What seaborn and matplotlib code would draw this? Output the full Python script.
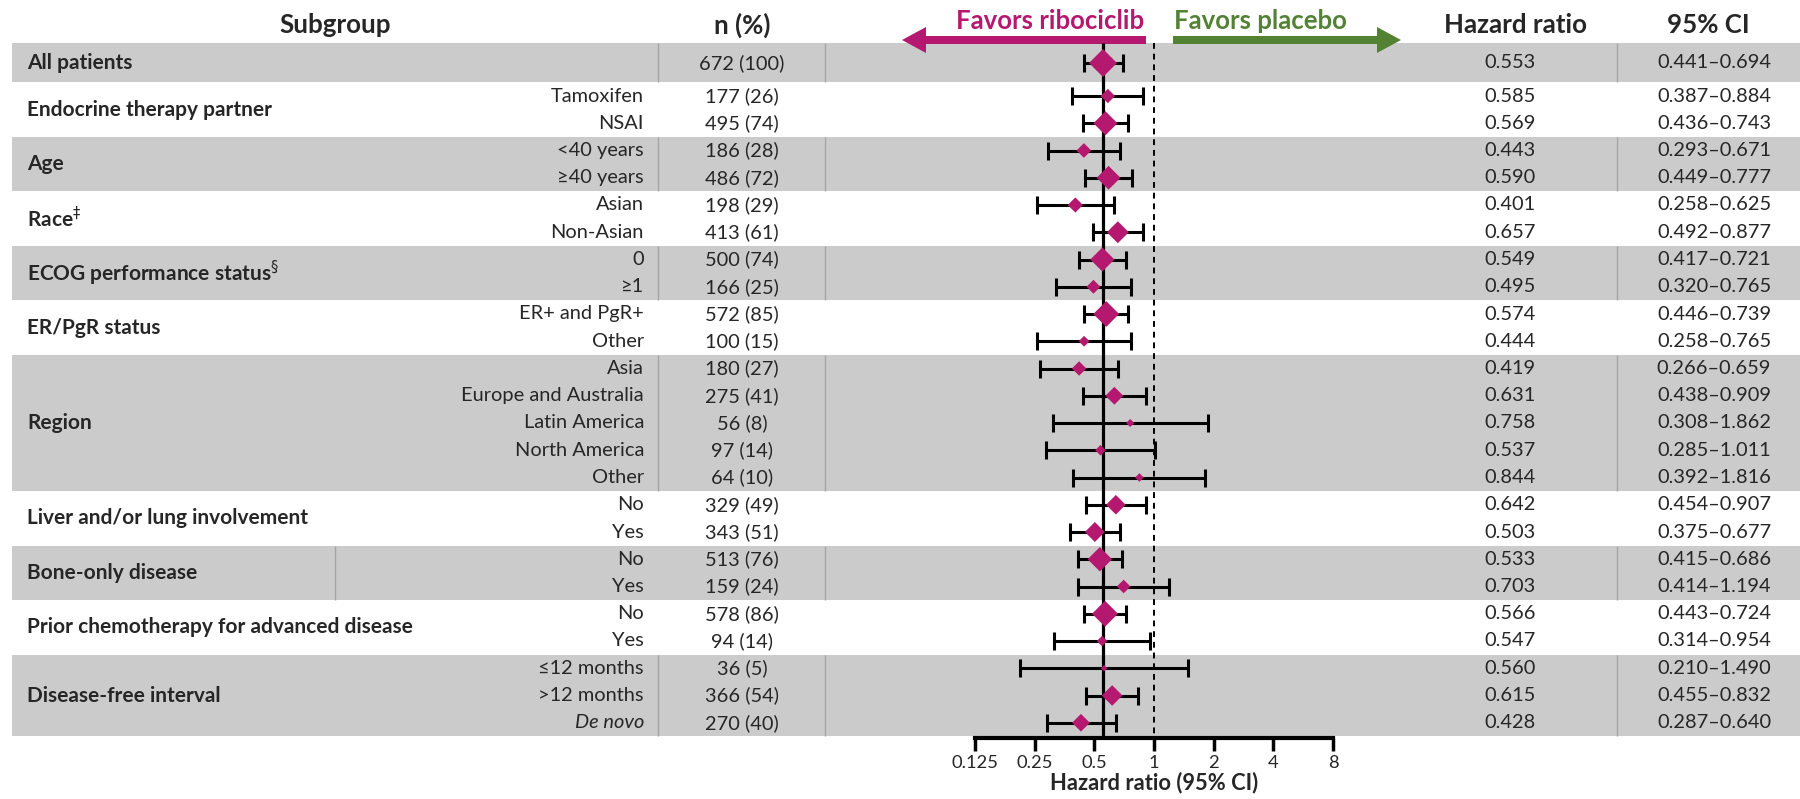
import numpy as np
import pandas as pd
import seaborn as sns
import matplotlib.pyplot as plt
from matplotlib.patches import FancyArrow

sns.set_style("white")
plt.rcParams["font.family"] = ["Lato", "DejaVu Sans"]
plt.rcParams["mathtext.fontset"] = "dejavusans"

# ---- data ----
groups = ["All patients", "Endocrine therapy partner", "Age", r"Race$^{\ddag}$",
          r"ECOG performance status$^{\S}$", "ER/PgR status", "Region",
          "Liver and/or lung involvement", "Bone-only disease",
          "Prior chemotherapy for advanced disease", "Disease-free interval"]
group_sizes = [1, 2, 2, 2, 2, 2, 5, 2, 2, 2, 3]
subgroups = ["", "Tamoxifen", "NSAI", "<40 years", "≥40 years", "Asian", "Non-Asian",
             "0", "≥1", "ER+ and PgR+", "Other", "Asia", "Europe and Australia",
             "Latin America", "North America", "Other", "No", "Yes", "No", "Yes",
             "No", "Yes", "≤12 months", ">12 months", "De novo"]
n_pts = [672, 177, 495, 186, 486, 198, 413, 500, 166, 572, 100, 180, 275, 56, 97, 64,
         329, 343, 513, 159, 578, 94, 36, 366, 270]
pct = [100, 26, 74, 28, 72, 29, 61, 74, 25, 85, 15, 27, 41, 8, 14, 10,
       49, 51, 76, 24, 86, 14, 5, 54, 40]
hr = [0.553, 0.585, 0.569, 0.443, 0.590, 0.401, 0.657, 0.549, 0.495, 0.574, 0.444,
      0.419, 0.631, 0.758, 0.537, 0.844, 0.642, 0.503, 0.533, 0.703, 0.566, 0.547,
      0.560, 0.615, 0.428]
ci_lo = [0.441, 0.387, 0.436, 0.293, 0.449, 0.258, 0.492, 0.417, 0.320, 0.446, 0.258,
         0.266, 0.438, 0.308, 0.285, 0.392, 0.454, 0.375, 0.415, 0.414, 0.443, 0.314,
         0.210, 0.455, 0.287]
ci_hi = [0.694, 0.884, 0.743, 0.671, 0.777, 0.625, 0.877, 0.721, 0.765, 0.739, 0.765,
         0.659, 0.909, 1.862, 1.011, 1.816, 0.907, 0.677, 0.686, 1.194, 0.724, 0.954,
         1.490, 0.832, 0.640]
ticks = [0.125, 0.25, 0.5, 1, 2, 4, 8]
tick_labels = ["0.125", "0.25", "0.5", "1", "2", "4", "8"]

MAGENTA = "#b5196f"
GREEN = "#548235"
GRAY = "#cbcbcb"
SEP = "#a6a6a6"

# layout in pixels (figure is 1800 x 799)
W, H = 1800, 799
ROW0, ROW1, PITCH = 63, 96, 27.25
row_y = np.array([ROW0] + [ROW1 + PITCH * i for i in range(len(hr) - 1)])

df = pd.DataFrame({"sub": subgroups, "n": n_pts, "pct": pct, "hr": hr,
                   "lo": ci_lo, "hi": ci_hi, "y": row_y})

fig = plt.figure(figsize=(W / 100, H / 100), dpi=100)
renderer = fig.canvas.get_renderer()


def fit_size(sample, width_px, **kw):
    # font size that makes `sample` as wide as it is in the reference
    t = fig.text(0, 0, sample, fontsize=10, **kw)
    w = t.get_window_extent(renderer=renderer).width
    t.remove()
    return 10 * width_px / w


FS_BODY = 0.5 * (fit_size("0.438\u20130.909", 113) + fit_size("672 (100)", 86))
FS_GROUP = fit_size("Endocrine therapy partner", 246, fontweight="bold")
FS_HEAD = fit_size("Subgroup", 111, fontweight="bold")
FS_FAVOR = fit_size("Favors placebo", 173, fontweight="bold")
FS_TICK = fit_size("0.125", 47)
FS_XLAB = fit_size("Hazard ratio (95% CI)", 207, fontweight="bold")

# background axes in pixel coordinates for the table part
bg = fig.add_axes([0, 0, 1, 1], zorder=0)
bg.set_xlim(0, W)
bg.set_ylim(H, 0)
bg.axis("off")

# group bands, separators and labels
start = 0
for gi, (g, size) in enumerate(zip(groups, group_sizes)):
    ys = row_y[start:start + size]
    if gi == 0:
        top, bottom = 43, 82
    else:
        top, bottom = ys[0] - PITCH / 2, ys[-1] + PITCH / 2
    if gi % 2 == 0:
        bg.axhspan(top, bottom, xmin=12 / W, xmax=1, color=GRAY, lw=0, zorder=0)
        seps = [335, 825, 1617] if g == "Bone-only disease" else [658, 825, 1617]
        bg.vlines(seps, top, bottom, colors=SEP, lw=1, zorder=1)
    bg.text(27, ys.mean(), g, ha="left", va="center", fontsize=FS_GROUP,
            fontweight="bold", zorder=2)
    start += size

for _, r in df.iterrows():
    style = "italic" if r["sub"] == "De novo" else "normal"
    bg.text(644, r["y"], r["sub"], ha="right", va="center", fontsize=FS_BODY,
            style=style)
    bg.text(742, r["y"], f"{r['n']} ({r['pct']})", ha="center", va="center",
            fontsize=FS_BODY)
    bg.text(1510, r["y"], f"{r['hr']:.3f}", ha="center", va="center", fontsize=FS_BODY)
    bg.text(1714, r["y"], f"{r['lo']:.3f}\u2013{r['hi']:.3f}", ha="center",
            va="center", fontsize=FS_BODY)

# headers
for x, t in [(335, "Subgroup"), (742, "n (%)"), (1516, "Hazard ratio"), (1708, "95% CI")]:
    bg.text(x, 25, t, ha="center", va="center", fontsize=FS_HEAD, fontweight="bold")

# favors arrows
bg.add_patch(FancyArrow(1146, 40, -244, 0, width=8, head_width=26, head_length=24,
                        length_includes_head=True, color=MAGENTA, lw=0, zorder=3))
bg.add_patch(FancyArrow(1173, 40, 228, 0, width=8, head_width=26, head_length=24,
                        length_includes_head=True, color=GREEN, lw=0, zorder=3))
bg.text(1144, 21, "Favors ribociclib", ha="right", va="center", fontsize=FS_FAVOR,
        fontweight="bold", color=MAGENTA)
bg.text(1174, 21, "Favors placebo", ha="left", va="center", fontsize=FS_FAVOR,
        fontweight="bold", color=GREEN)

# forest axes
ax = fig.add_axes([975 / W, 1 - 738 / H, 358 / W, 738 / H], zorder=1)
ax.set_facecolor("none")
ax.set_xscale("log", base=2)

ax.vlines(hr[0], 43, 738, color="black", lw=2.3, zorder=2)
ax.vlines(1, 43, 738, color="black", lw=1.4, linestyles=(0, (3, 2.5)), zorder=1)
ax.errorbar(df["hr"], df["y"], xerr=[df["hr"] - df["lo"], df["hi"] - df["hr"]],
            fmt="none", ecolor="black", elinewidth=2.2, capsize=6.8, capthick=2.2,
            zorder=3)
sns.scatterplot(data=df, x="hr", y="y", size="n", sizes=(0.302 * 36, 0.302 * 672),
                size_norm=(36, 672), marker="D", color=MAGENTA, edgecolor="none",
                linewidth=0, legend=False, ax=ax, zorder=4)

ax.set_xlim(0.125, 8)
ax.set_ylim(738, 0)
ax.set_xticks(ticks)
ax.set_xticklabels(tick_labels)
ax.minorticks_off()
ax.set_yticks([])
ax.set_ylabel("")
for s in ["top", "left", "right"]:
    ax.spines[s].set_visible(False)
ax.spines["bottom"].set_linewidth(3)
ax.spines["bottom"].set_color("black")
ax.tick_params(axis="x", direction="out", length=9, width=2.5, labelsize=FS_TICK,
               pad=3, color="black", bottom=True)
ax.set_xlabel("Hazard ratio (95% CI)", fontsize=FS_XLAB, fontweight="bold", labelpad=1)

fig.savefig("out.png", dpi=100)
plt.close(fig)
